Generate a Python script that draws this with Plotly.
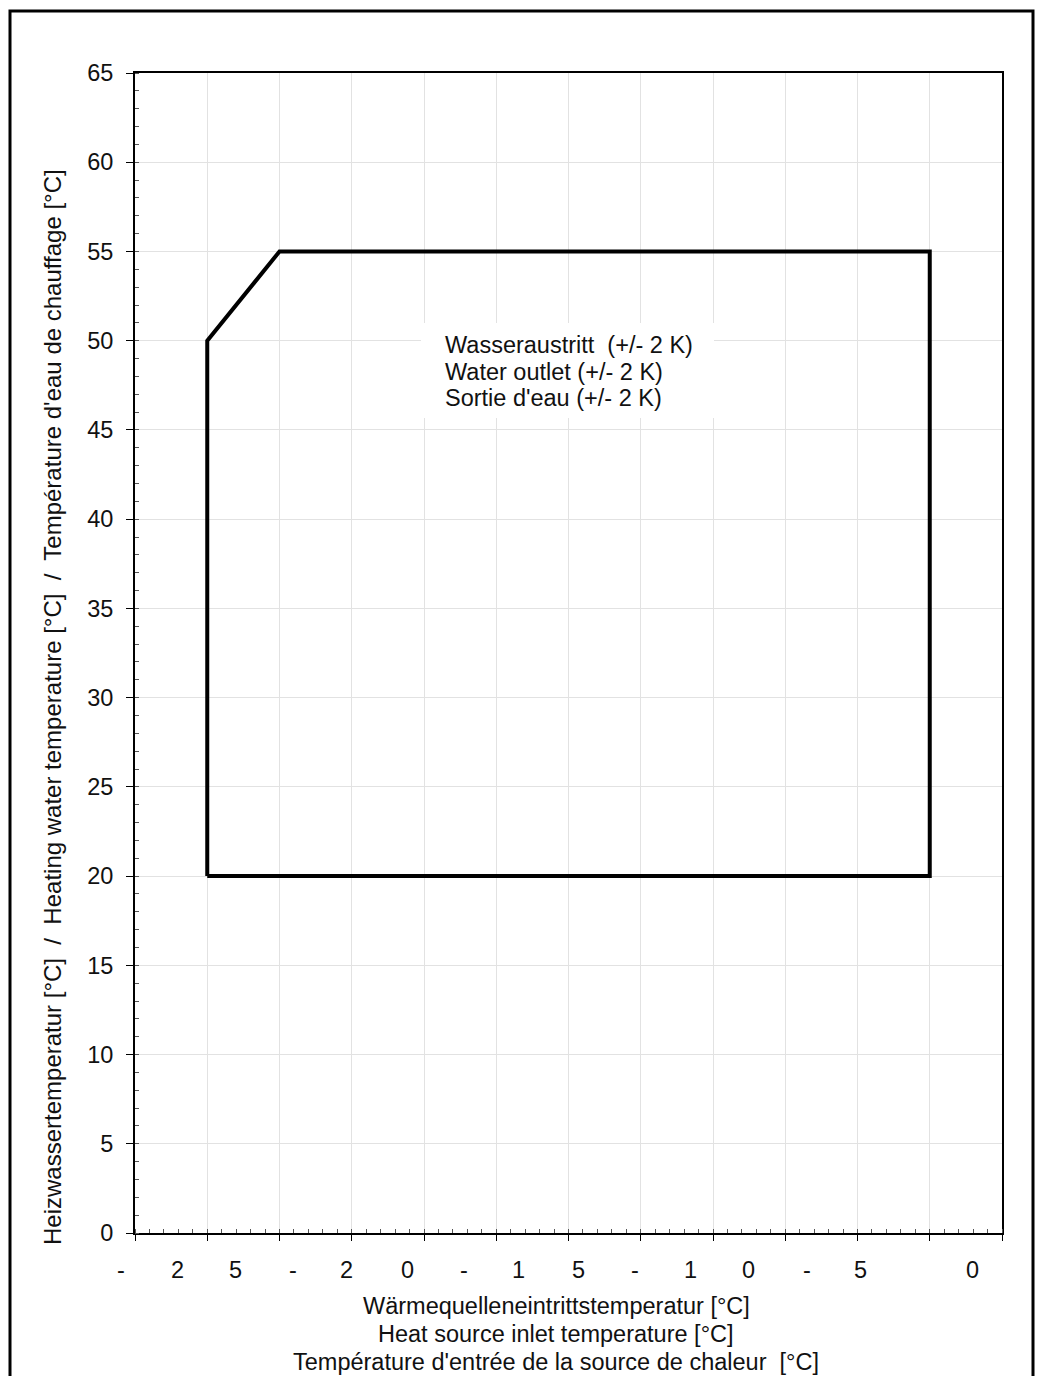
import plotly.graph_objects as go

# ---- data ----
env_x = [-20, -20, -15, 30, 30, -20]
env_y = [20, 50, 55, 55, 20, 20]

x_tick_chars = ["-", "2", "5", "-", "2", "0", "-", "1", "5", "-", "1", "0", "-", "5", "0"]
box_lines = ["Wasseraustritt  (+/- 2 K)", "Water outlet (+/- 2 K)", "Sortie d'eau (+/- 2 K)"]
x_title_lines = [
    "Wärmequelleneintrittstemperatur [°C]",
    "Heat source inlet temperature [°C]",
    "Température d'entrée de la source de chaleur  [°C]",
]
y_title = ("Heizwassertemperatur [°C]  /  Heating water temperature [°C]  /  "
           "Température d'eau de chauffage [°C]")

# ---- layout geometry (pixels) ----
W, H = 1037, 1376
L, R, T, B = 135, 35, 73, 143
PW, PH = W - L - R, H - T - B


def px(xp):
    return (xp - L) / PW


def py(yp):
    return (H - B - yp) / PH


tick_char_px = [121, 177, 235, 293, 346, 407, 464, 518, 578, 635, 690, 748, 807, 860, 972]

FONT = "Liberation Sans, Arial, sans-serif"
FS = 23.5

fig = go.Figure()
fig.add_trace(go.Scatter(
    x=env_x, y=env_y, mode="lines",
    line=dict(color="black", width=4), showlegend=False, hoverinfo="skip",
))

annotations = []
for ch, xp in zip(x_tick_chars, tick_char_px):
    annotations.append(dict(
        text=ch, x=px(xp), y=py(1270), xref="paper", yref="paper",
        xanchor="center", yanchor="middle", showarrow=False,
        font=dict(family=FONT, size=FS, color="#111"),
    ))
for i, line in enumerate(x_title_lines):
    annotations.append(dict(
        text=line, x=px(556), y=py(1306 + 28 * i), xref="paper", yref="paper",
        xanchor="center", yanchor="middle", showarrow=False,
        font=dict(family=FONT, size=FS, color="#111"),
    ))
for i, line in enumerate(box_lines):
    annotations.append(dict(
        text=line, x=px(443), y=py(345 + 26.5 * i), xref="paper", yref="paper",
        xanchor="left", yanchor="middle", showarrow=False,
        font=dict(family=FONT, size=FS, color="#111"),
    ))
annotations.append(dict(
    text=y_title, x=px(53), y=py(707), xref="paper", yref="paper",
    xanchor="center", yanchor="middle", showarrow=False, textangle=-90,
    font=dict(family=FONT, size=24, color="#111"),
))

shapes = [
    # white box behind text
    dict(type="rect", xref="paper", yref="paper",
         x0=px(421), x1=px(714), y0=py(418), y1=py(323),
         fillcolor="white", line=dict(width=0), layer="above"),
    # outer frame
    dict(type="rect", xref="paper", yref="paper",
         x0=px(10), x1=px(1033), y0=py(1400), y1=py(11),
         line=dict(color="black", width=3), fillcolor="rgba(0,0,0,0)", layer="above"),
]

fig.update_layout(
    width=W, height=H,
    margin=dict(l=L, r=R, t=T, b=B, pad=0),
    paper_bgcolor="white", plot_bgcolor="white",
    font=dict(family=FONT, size=FS, color="#111"),
    annotations=annotations, shapes=shapes,
    showlegend=False,
)
fig.update_xaxes(
    range=[-25, 35], dtick=5, tick0=-25, showticklabels=False,
    showgrid=True, gridcolor="#e2e2e2", gridwidth=1, zeroline=False,
    showline=True, linecolor="black", linewidth=2, mirror=True,
    ticks="outside", ticklen=6, tickcolor="black", tickwidth=1,
    minor=dict(dtick=1, ticks="inside", ticklen=4, tickcolor="#555", showgrid=False),
)
fig.update_yaxes(
    range=[0, 65], dtick=5, tick0=0,
    showgrid=True, gridcolor="#e2e2e2", gridwidth=1, zeroline=False,
    showline=True, linecolor="black", linewidth=2, mirror=True,
    ticks="outside", ticklen=7, tickcolor="black", tickwidth=1,
    ticklabelstandoff=8,
    tickfont=dict(family=FONT, size=FS, color="#111"),
    minor=dict(dtick=1, ticks="inside", ticklen=4, tickcolor="#555", showgrid=False),
)

fig.write_html("out.html")
